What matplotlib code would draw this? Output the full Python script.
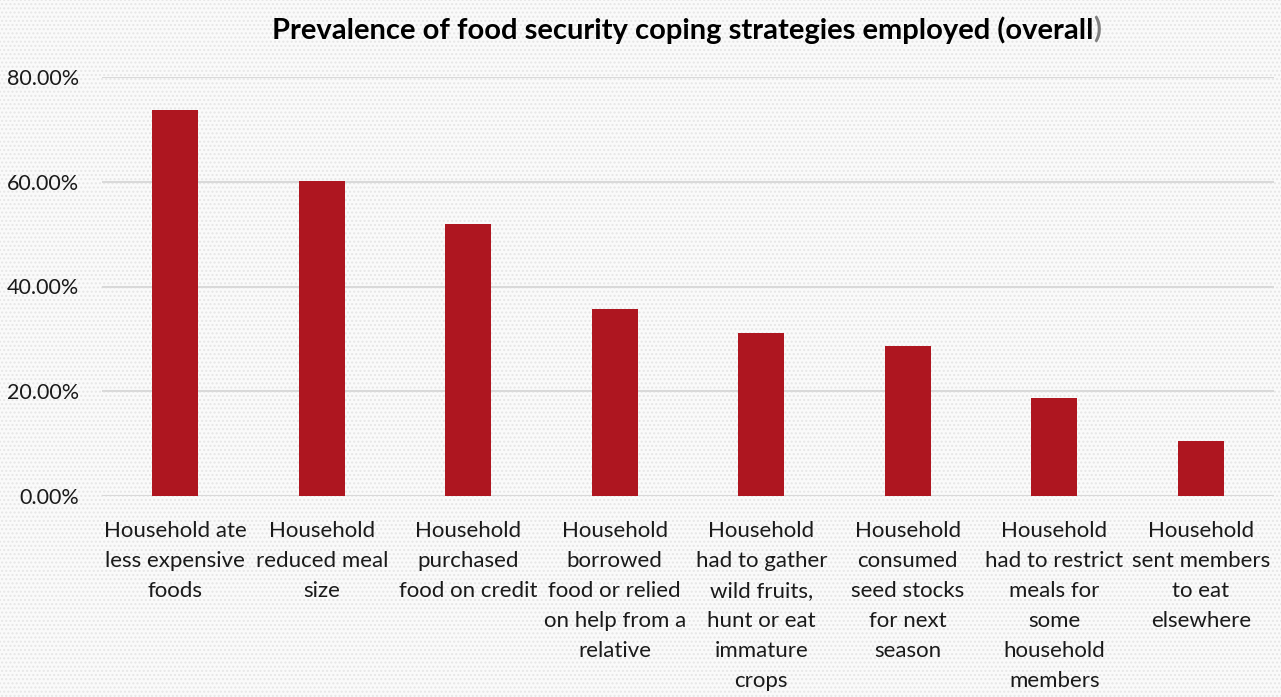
import matplotlib
matplotlib.use("Agg")
import matplotlib.pyplot as plt
from matplotlib.ticker import FuncFormatter
from matplotlib.patches import Rectangle

categories = [
    "Household ate\nless expensive\nfoods",
    "Household\nreduced meal\nsize",
    "Household\npurchased\nfood on credit",
    "Household\nborrowed\nfood or relied\non help from a\nrelative",
    "Household\nhad to gather\nwild fruits,\nhunt or eat\nimmature\ncrops",
    "Household\nconsumed\nseed stocks\nfor next\nseason",
    "Household\nhad to restrict\nmeals for\nsome\nhousehold\nmembers",
    "Household\nsent members\nto eat\nelsewhere",
]
values = [73.7, 60.2, 51.9, 35.7, 31.1, 28.6, 18.7, 10.5]
yticks = [0, 20, 40, 60, 80]

plt.rcParams['font.family'] = ['Lato', 'DejaVu Sans']

W, H = 1281, 697
fig = plt.figure(figsize=(W / 100, H / 100), dpi=100)
fig.patch.set_facecolor('white')
bg = Rectangle((0, 0), 1, 1, transform=fig.transFigure, facecolor='#fafafa',
               edgecolor='#e6e6e6', hatch='....', linewidth=0, zorder=-10)
fig.patches.append(bg)

ax = fig.add_axes([102 / W, 1 - 496 / H, (1274 - 102) / W, (496 - 77) / H])
ax.set_facecolor('none')
x = range(len(categories))
ax.bar(x, values, width=0.315, color='#AE1620', zorder=3)
ax.set_xlim(-0.5, len(categories) - 0.5)
ax.set_ylim(0, 80)
ax.set_yticks(yticks)
ax.yaxis.set_major_formatter(FuncFormatter(lambda v, p: f"{v:.2f}%"))
ax.grid(axis='y', color='#d9d9d9', linewidth=1.5, zorder=0)
for s in ax.spines.values():
    s.set_visible(False)
ax.tick_params(axis='both', length=0, labelsize=15.5, labelcolor='#1a1a1a')
ax.tick_params(axis='y', pad=16.5)
ax.set_xticks(list(x))
ax.set_xticklabels(categories, linespacing=1.62, va='top', fontsize=16)
ax.tick_params(axis='x', pad=18)

tx, ty = 687 / W, 1 - 30 / H
t1 = fig.text(tx, ty, "Prevalence of food security coping strategies employed (overall)",
              ha='center', va='center', fontsize=21, fontweight='bold', color='#000000')
fig.canvas.draw()
bb = t1.get_window_extent()
t1.set_text("Prevalence of food security coping strategies employed (overall")
t1.set_ha('left')
t1.set_x(bb.x0 / W)
fig.canvas.draw()
bb2 = t1.get_window_extent()
fig.text(bb2.x1 / W, ty, ")", ha='left', va='center', fontsize=21,
         fontweight='bold', color='#7f7f7f')

fig.savefig("out.png", dpi=100, facecolor=fig.get_facecolor())
